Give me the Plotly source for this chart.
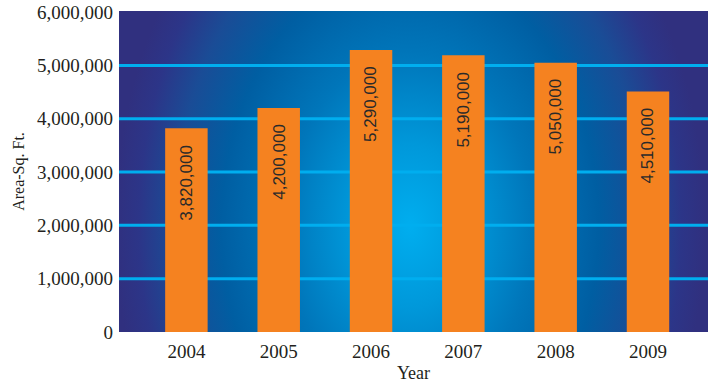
import base64
import plotly.graph_objects as go

# Floor area by year
years = ["2004", "2005", "2006", "2007", "2008", "2009"]
area_sqft = [3820000, 4200000, 5290000, 5190000, 5050000, 4510000]
y_ticks = [0, 1000000, 2000000, 3000000, 4000000, 5000000, 6000000]
y_tick_text = ["0", "1,000,000", "2,000,000", "3,000,000", "4,000,000", "5,000,000", "6,000,000"]
grid_levels = [1000000, 2000000, 3000000, 4000000, 5000000]

BAR_COLOR = "#F58220"
GRID_COLOR = "#00AEEF"
SERIF = "Liberation Serif, Times New Roman, serif"
SANS = "Liberation Sans, Arial, sans-serif"

# Radial glow behind the bars (plot-area sized SVG)
W, H = 589, 321
bg_svg = f"""<svg xmlns='http://www.w3.org/2000/svg' width='{W}' height='{H}' viewBox='0 0 {W} {H}' preserveAspectRatio='none'>
<defs>
<radialGradient id='g' gradientUnits='userSpaceOnUse' cx='0' cy='0' r='1'
 gradientTransform='translate(291 215) scale(295 410)'>
<stop offset='0' stop-color='#00AEEF'/>
<stop offset='0.2' stop-color='#0098DA'/>
<stop offset='0.42' stop-color='#0076BA'/>
<stop offset='0.64' stop-color='#005EA2'/>
<stop offset='0.8' stop-color='#1A4C96'/>
<stop offset='0.92' stop-color='#2C3588'/>
<stop offset='1' stop-color='#30307F'/>
</radialGradient>
</defs>
<rect x='0' y='0' width='{W}' height='{H}' fill='url(#g)'/>
</svg>"""
bg_uri = "data:image/svg+xml;base64," + base64.b64encode(bg_svg.encode()).decode()

fig = go.Figure()
fig.add_trace(go.Bar(
    x=years,
    y=area_sqft,
    marker=dict(color=BAR_COLOR, line=dict(width=0)),
    width=0.46,
    hoverinfo="x+y",
))

# Rotated value labels inside the top of each bar (x given as category index)
for i, v in enumerate(area_sqft):
    fig.add_annotation(
        x=i, y=v, xref="x", yref="y",
        text=f"{v:,}",
        textangle=-90,
        showarrow=False,
        yanchor="top", xanchor="center",
        yshift=-14,
        font=dict(family=SANS, size=17, color="#2a2a2a"),
    )

# Horizontal guide lines (no line at the top edge)
for lv in grid_levels:
    fig.add_shape(
        type="line", xref="paper", yref="y",
        x0=0, x1=1, y0=lv, y1=lv,
        line=dict(color=GRID_COLOR, width=3),
        layer="below",
    )

fig.add_layout_image(
    source=bg_uri, xref="paper", yref="paper",
    x=0, y=1, sizex=1, sizey=1,
    xanchor="left", yanchor="top",
    sizing="stretch", layer="below",
)

fig.update_layout(
    width=714, height=383,
    margin=dict(l=119, r=6, t=11, b=51, autoexpand=False),
    paper_bgcolor="white",
    plot_bgcolor="rgba(0,0,0,0)",
    showlegend=False,
    xaxis=dict(
        type="category",
        range=[-0.73, 5.65],
        automargin=False,
        showgrid=False, zeroline=False, showline=False,
        ticks="", ticklabelstandoff=6,
        tickfont=dict(family=SERIF, size=19, color="#231F20"),
        title=dict(text="Year", font=dict(family=SERIF, size=18, color="#231F20"), standoff=9),
    ),
    yaxis=dict(
        range=[0, 6020000],
        automargin=False,
        tickvals=y_ticks, ticktext=y_tick_text,
        showgrid=False, zeroline=False, showline=False,
        ticks="", ticklabelstandoff=5,
        tickfont=dict(family=SERIF, size=19, color="#231F20"),
        title=dict(text="Area-Sq. Ft.", font=dict(family=SERIF, size=16, color="#231F20"), standoff=8),
    ),
)

fig.write_html("out.html")
